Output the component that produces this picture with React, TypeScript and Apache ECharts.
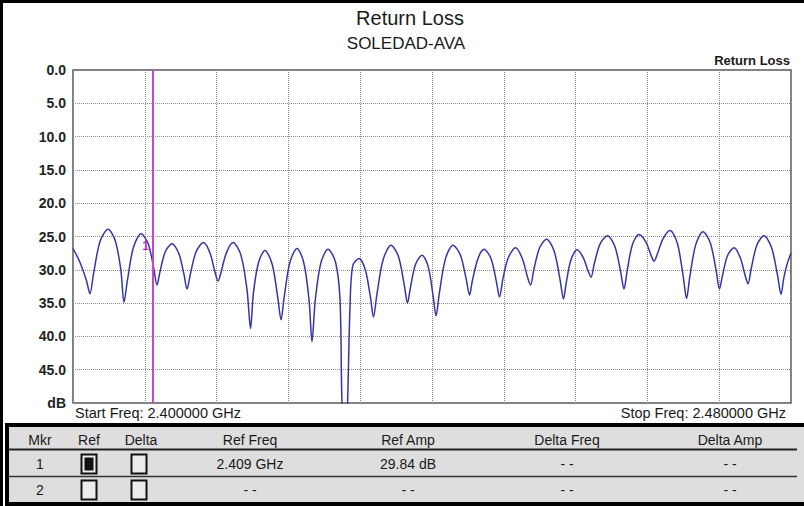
import React, { useEffect, useRef } from "react";
import * as echarts from "echarts";

// ---- data ----
const freqMHz = [
  2400.0, 2400.78, 2401.5, 2401.89, 2402.3, 2403.0, 2403.9, 2404.7, 2405.33, 2405.68,
  2406.06, 2406.72, 2407.58, 2408.38, 2409.0, 2409.36, 2409.69, 2410.28, 2411.03, 2411.78,
  2412.37, 2412.7, 2413.07, 2413.71, 2414.54, 2415.27, 2415.83, 2416.16, 2416.49, 2417.08,
  2417.83, 2418.71, 2419.39, 2419.78, 2420.1, 2420.67, 2421.39, 2422.2, 2422.82, 2423.18,
  2423.53, 2424.16, 2424.96, 2425.71, 2426.3, 2426.63, 2426.99, 2427.61, 2428.41, 2429.26,
  2429.75, 2429.97, 2430.31, 2430.59, 2430.86, 2431.16, 2431.87, 2432.59, 2433.16, 2433.48,
  2433.87, 2434.55, 2435.43, 2436.26, 2436.9, 2437.27, 2437.59, 2438.16, 2438.89, 2439.59,
  2440.13, 2440.45, 2440.82, 2441.49, 2442.34, 2443.17, 2443.81, 2444.18, 2444.5, 2445.15,
  2445.79, 2446.57, 2447.18, 2447.52, 2447.91, 2448.5, 2449.3, 2450.06, 2450.64, 2450.98,
  2451.33, 2451.96, 2452.76, 2453.61, 2454.27, 2454.65, 2454.95, 2455.48, 2456.16, 2456.86,
  2457.4, 2457.72, 2458.08, 2458.73, 2459.55, 2460.38, 2461.02, 2461.39, 2461.73, 2462.31,
  2463.06, 2463.82, 2464.4, 2464.74, 2465.09, 2465.72, 2466.52, 2467.35, 2467.99, 2468.36,
  2468.72, 2469.37, 2470.2, 2471.02, 2471.67, 2472.03, 2472.36, 2472.92, 2473.65, 2474.35,
  2474.9, 2475.21, 2475.57, 2476.19, 2476.99, 2477.84, 2478.51, 2478.89, 2479.2, 2479.6,
  2480.0,
];
const returnLossDb = [
  26.8, 28.9, 31.6, 33.6, 30.5, 25.8, 23.9, 25.6, 30.0, 34.9,
  31.6, 26.7, 24.6, 26.1, 29.8, 32.3, 30.3, 27.3, 26.1, 27.5,
  30.7, 32.9, 30.7, 27.3, 25.9, 27.5, 30.4, 31.7, 30.4, 27.5,
  25.9, 27.8, 33.0, 38.8, 33.5, 28.9, 27.1, 29.2, 34.2, 37.5,
  34.1, 28.9, 26.8, 28.9, 34.5, 40.8, 34.6, 29.0, 26.9, 28.9,
  34.5, 50.0, 58.0, 50.0, 35.7, 29.4, 28.3, 30.1, 34.3, 37.1,
  33.6, 28.5, 26.3, 28.0, 32.2, 35.0, 32.7, 29.2, 27.8, 29.6,
  34.0, 36.9, 33.5, 28.4, 26.3, 27.8, 31.4, 33.8, 31.6, 28.2,
  26.9, 28.3, 31.8, 34.1, 31.3, 28.2, 26.7, 28.3, 31.1, 32.3,
  30.1, 26.8, 25.4, 27.2, 31.5, 34.4, 32.0, 28.5, 27.0, 28.2,
  30.2, 31.1, 29.1, 26.1, 24.9, 26.5, 30.3, 32.9, 30.3, 26.3,
  24.7, 25.8, 27.8, 28.7, 27.7, 25.4, 24.1, 26.1, 31.0, 34.3,
  31.1, 26.3, 24.3, 26.0, 30.2, 32.9, 30.9, 27.9, 26.7, 28.2,
  30.9, 32.1, 29.8, 26.3, 24.9, 26.7, 30.9, 33.7, 31.2, 29.0,
  27.5,
];
const freqMin = 2400;
const freqMax = 2480;
const freqStep = 8;
const dbMin = 0;
const dbMax = 50;
const dbStep = 5;
const markerFreqMHz = 2408.9;
const markerLabelPoint = [2408.1, 26.4];

const chartTitle = "Return Loss";
const chartSubtitle = "SOLEDAD-AVA";
const traceName = "Return Loss";
const unitLabel = "dB";
const startFreqLabel = "Start Freq: 2.400000 GHz";
const stopFreqLabel = "Stop Freq: 2.480000 GHz";

const tableHeaders = ["Mkr", "Ref", "Delta", "Ref Freq", "Ref Amp", "Delta Freq", "Delta Amp"];
const markerIds = ["1", "2"];
const refChecked = [true, false];
const deltaChecked = [false, false];
const refFreqs = ["2.409 GHz", "- -"];
const refAmps = ["29.84 dB", "- -"];
const deltaFreqs = ["- -", "- -"];
const deltaAmps = ["- -", "- -"];

const FONT = "'Liberation Sans', Arial, Helvetica, sans-serif";

function txt(x: number, y: number, text: string, size: number, align: string, opts: any = {}) {
  return {
    type: "text",
    x,
    y,
    silent: true,
    z: 10,
    style: {
      text,
      fill: opts.fill || "#1a1a1a",
      fontSize: size,
      fontFamily: FONT,
      fontWeight: opts.weight || "normal",
      textAlign: align,
      textVerticalAlign: "middle",
      align,
      verticalAlign: "middle",
    },
  };
}

function rect(x: number, y: number, w: number, h: number, style: any) {
  return { type: "rect", silent: true, z: 5, shape: { x, y, width: w, height: h }, style };
}

function line(x1: number, y1: number, x2: number, y2: number, stroke: string, lw: number) {
  return { type: "line", silent: true, z: 6, shape: { x1, y1, x2, y2 }, style: { stroke, lineWidth: lw } };
}

export default function App() {
  const ref = useRef<HTMLDivElement>(null);

  useEffect(() => {
    if (!ref.current) return;
    const chart = echarts.init(ref.current, null, { renderer: "svg" });
    const traceData = freqMHz.map((f, i) => [f, returnLossDb[i]]);

    const g: any[] = [];
    // outer frame (top and left)
    g.push(rect(0, 0, 804, 3, { fill: "#000" }));
    g.push(rect(0, 0, 3, 506, { fill: "#000" }));
    // titles
    g.push(txt(410, 18, chartTitle, 20, "center"));
    g.push(txt(406, 43, chartSubtitle, 17, "center"));
    g.push(txt(790, 60, traceName, 13, "right", { weight: "bold" }));
    g.push(txt(75, 413, startFreqLabel, 14.5, "left"));
    g.push(txt(786, 413, stopFreqLabel, 14.5, "right"));

    // marker table
    g.push(rect(5, 423, 805, 83, { fill: "#dedede" }));
    g.push(rect(5, 423, 805, 4, { fill: "#000" }));
    g.push(rect(5, 423, 4, 83, { fill: "#000" }));
    g.push(rect(5, 502, 805, 4, { fill: "#000" }));
    g.push(line(9, 449.5, 797, 449.5, "#222", 2));
    g.push(line(9, 476.5, 797, 476.5, "#333", 1.5));

    const colX = [40, 89, 141, 250, 408, 567, 730];
    const headerY = 440;
    const rowY = [464, 490];
    tableHeaders.forEach((h, i) => g.push(txt(colX[i], headerY, h, 14, "center")));

    const checkbox = (cx: number, cy: number, filled: boolean) => {
      g.push(rect(cx - 7.5, cy - 9.5, 15, 19, { fill: "#ececec", stroke: "#111", lineWidth: 2 }));
      if (filled) g.push(rect(cx - 4.5, cy - 6.5, 9, 13, { fill: "#111" }));
    };

    markerIds.forEach((id, r) => {
      const y = rowY[r];
      g.push(txt(colX[0], y, id, 14, "center"));
      checkbox(colX[1], y, refChecked[r]);
      checkbox(colX[2] - 2, y, deltaChecked[r]);
      g.push(txt(colX[3], y, refFreqs[r], 14, "center"));
      g.push(txt(colX[4], y, refAmps[r], 14, "center"));
      g.push(txt(colX[5], y, deltaFreqs[r], 14, "center"));
      g.push(txt(colX[6], y, deltaAmps[r], 14, "center"));
    });

    const gridLine = { show: true, lineStyle: { color: "#8c8c8c", type: [1, 1], width: 1 } };

    chart.setOption({
      animation: false,
      backgroundColor: "#ffffff",
      grid: {
        left: 73,
        top: 70,
        width: 718,
        height: 333,
        show: true,
        borderColor: "#555",
        borderWidth: 1.5,
        backgroundColor: "transparent",
        containLabel: false,
      },
      xAxis: {
        type: "value",
        min: freqMin,
        max: freqMax,
        interval: freqStep,
        axisLabel: { show: false },
        axisTick: { show: false },
        axisLine: { show: false },
        splitLine: gridLine,
      },
      yAxis: {
        type: "value",
        inverse: true,
        min: dbMin,
        max: dbMax,
        interval: dbStep,
        axisLabel: {
          formatter: (v: number) => (v >= dbMax ? unitLabel : v.toFixed(1)),
          color: "#222",
          fontWeight: "bold",
          fontSize: 14,
          fontFamily: FONT,
          margin: 7,
        },
        axisTick: { show: false },
        axisLine: { show: false },
        splitLine: gridLine,
      },
      series: [
        {
          type: "line",
          name: traceName,
          data: traceData,
          symbol: "none",
          smooth: 0.3,
          clip: true,
          lineStyle: { color: "#3535a8", width: 1.5 },
          markLine: {
            silent: true,
            symbol: ["none", "none"],
            label: { show: false },
            lineStyle: { color: "#cc44cc", width: 2, type: "solid" },
            data: [{ xAxis: markerFreqMHz }],
          },
          markPoint: {
            silent: true,
            symbol: "circle",
            symbolSize: 1,
            itemStyle: { color: "rgba(0,0,0,0)" },
            label: {
              show: true,
              formatter: markerIds[0],
              color: "#cc22cc",
              fontWeight: "bold",
              fontSize: 12,
              fontFamily: FONT,
              position: "inside",
            },
            data: [{ coord: markerLabelPoint }],
          },
        },
      ],
      graphic: g,
    });

    return () => chart.dispose();
  }, []);

  return (
    <div
      ref={ref}
      style={{ position: "absolute", left: 0, top: 0, width: 804, height: 506 }}
    />
  );
}
